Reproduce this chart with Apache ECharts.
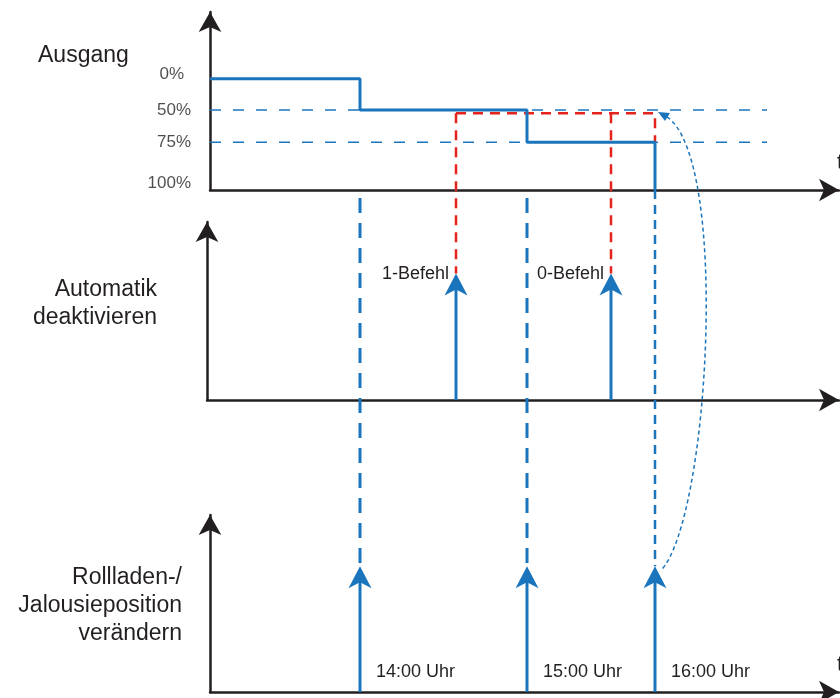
<!DOCTYPE html>
<html>
<head>
<meta charset="utf-8">
<title>Automatik deaktivieren</title>
<script src="https://cdn.jsdelivr.net/npm/echarts@6/dist/echarts.min.js"></script>
<style>
  html, body { margin: 0; padding: 0; background: #fff; }
  #chart { width: 840px; height: 698px; }
</style>
</head>
<body>
<div id="chart"></div>
<script>
// shared time axis (schematic units, 0 = origin of the panels)
const tEnd = 629
const guideEnd = 557

// Ausgang: position steps
const levelLabels = ['0%', '50%', '75%', '100%']
const levelPos = [0, 28, 57, 100] // where each level sits on the Ausgang axis
const stepTimes = [0, 150, 317, 445]
const stepLevels = ['0%', '50%', '75%', '100%']
const guideLevels = ['50%', '75%']
const redLevel = 31 // red target line, drawn just under 50%

// Automatik deaktivieren: commands
const commandTimes = [246, 401]
const commandLabels = ['1-Befehl', '0-Befehl']

// Rollladen-/Jalousieposition: hourly moves
const hourTimes = [150, 317, 445]
const hourLabels = ['14:00 Uhr', '15:00 Uhr', '16:00 Uhr']

const pulseHeight = 0.71

const BLUE = '#1b75bc'
const RED = '#e3231c'
const INK = '#231f20'
const FONT = '"Liberation Sans", Arial, sans-serif'

const posOf = label => levelPos[levelLabels.indexOf(label)]

const chart = echarts.init(document.getElementById('chart'))

const axisLine = {
  onZero: false,
  symbol: ['none', 'arrow'],
  symbolSize: [17, 20],
  lineStyle: { color: INK, width: 2.5 }
}

const timeAxis = (gridIndex, min, name) => ({
  type: 'value',
  gridIndex,
  min,
  max: tEnd,
  name,
  nameLocation: 'end',
  nameGap: -2,
  nameTextStyle: {
    fontSize: 22,
    fontFamily: FONT,
    color: INK,
    align: 'left',
    verticalAlign: 'bottom',
    padding: [0, 0, 16, 0]
  },
  axisLine,
  axisTick: { show: false },
  axisLabel: { show: false },
  splitLine: { show: false }
})

const valueAxis = (gridIndex, extra) => Object.assign({
  type: 'value',
  gridIndex,
  axisLine,
  axisTick: { show: false },
  axisLabel: { show: false },
  splitLine: { show: false }
}, extra)

// vertical arrow with a label, drawn through the grid's scales
const arrowRender = (labels, kind) => (params, api) => {
  const base = api.coord([api.value(0), 0])
  const tip = api.coord([api.value(0), api.value(1)])
  const x = tip[0]
  const y = tip[1]
  const text = labels[params.dataIndex]
  const label = kind === 'command'
    ? { x: x - 7, y: y, align: 'right' }
    : { x: x + 16, y: base[1] - 20, align: 'left' }
  return {
    type: 'group',
    children: [
      {
        type: 'line',
        shape: { x1: base[0], y1: base[1], x2: x, y2: y + 12 },
        style: { stroke: BLUE, lineWidth: 3 }
      },
      {
        type: 'polygon',
        shape: { points: [[x, y], [x + 11.5, y + 22], [x, y + 16], [x - 11.5, y + 22]] },
        style: { fill: BLUE }
      },
      {
        type: 'text',
        x: label.x,
        y: label.y,
        style: {
          text,
          fontSize: 18,
          fontFamily: FONT,
          fill: INK,
          align: label.align,
          verticalAlign: 'middle'
        }
      }
    ]
  }
}

const option = {
  animation: false,
  backgroundColor: '#fff',
  textStyle: { fontFamily: FONT },
  grid: [
    { left: 210, right: 1, top: 12, height: 178, outerBoundsMode: 'none' },
    { left: 207, right: 1, top: 222, height: 178, outerBoundsMode: 'none' },
    { left: 210, right: 1, top: 515, height: 177, outerBoundsMode: 'none' }
  ],
  xAxis: [
    timeAxis(0, 0, 't'),
    timeAxis(1, -3, ''),
    timeAxis(2, 0, 't')
  ],
  yAxis: [
    valueAxis(0, { min: -60, max: 100, inverse: true }),
    valueAxis(1, { min: 0, max: 1 }),
    valueAxis(2, { min: 0, max: 1 })
  ],
  series: [
    ...guideLevels.map(l => ({
      type: 'line',
      xAxisIndex: 0,
      yAxisIndex: 0,
      symbol: 'none',
      silent: true,
      z: 1,
      data: [[0, posOf(l)], [guideEnd, posOf(l)]],
      lineStyle: { color: BLUE, width: 1.5, type: [11, 12] }
    })),
    {
      type: 'line',
      xAxisIndex: 0,
      yAxisIndex: 0,
      symbol: 'none',
      silent: true,
      z: 2,
      data: [[commandTimes[0], redLevel], [hourTimes[2], redLevel], [hourTimes[2], posOf('75%')]],
      lineStyle: { color: RED, width: 2.5, type: [10, 7] }
    },
    {
      type: 'line',
      xAxisIndex: 0,
      yAxisIndex: 0,
      step: 'end',
      symbol: 'none',
      silent: true,
      z: 3,
      data: stepTimes.map((t, i) => [t, posOf(stepLevels[i])]),
      lineStyle: { color: BLUE, width: 3 }
    },
    {
      type: 'scatter',
      xAxisIndex: 0,
      yAxisIndex: 0,
      symbolSize: 0,
      silent: true,
      data: levelLabels.map((l, i) => ({
        value: [0, levelPos[i]],
        label: { offset: i === 0 ? [-7, -4] : i === levelLabels.length - 1 ? [0, -7] : [0, 0] }
      })),
      label: {
        show: true,
        position: 'left',
        distance: 19,
        formatter: p => levelLabels[p.dataIndex],
        fontSize: 17,
        fontFamily: FONT,
        color: INK
      }
    },
    {
      type: 'custom',
      xAxisIndex: 1,
      yAxisIndex: 1,
      silent: true,
      data: commandTimes.map(t => [t, pulseHeight]),
      renderItem: arrowRender(commandLabels, 'command')
    },
    {
      type: 'custom',
      xAxisIndex: 2,
      yAxisIndex: 2,
      silent: true,
      data: hourTimes.map(t => [t, pulseHeight]),
      renderItem: arrowRender(hourLabels, 'hour')
    }
  ]
}

chart.setOption(option)

// lines that run across the panels
const px = (gridIndex, t, v) => chart.convertToPixel({ gridIndex }, [t, v])
const graphics = []

commandTimes.forEach(t => {
  const a = px(0, t, redLevel)
  const b = px(1, t, pulseHeight)
  graphics.push({
    type: 'line',
    z: 5,
    shape: { x1: a[0], y1: a[1], x2: b[0], y2: b[1] },
    style: { stroke: RED, lineWidth: 2.5, lineDash: [10, 7] }
  })
})

hourTimes.forEach((t, i) => {
  const a = px(0, t, 100)
  const b = px(2, t, pulseHeight)
  const last = i === hourTimes.length - 1
  graphics.push({
    type: 'line',
    z: 5,
    shape: { x1: a[0], y1: a[1], x2: b[0], y2: b[1] },
    style: last
      ? { stroke: BLUE, lineWidth: 2.5, lineDash: [9, 6] }
      : { stroke: BLUE, lineWidth: 3, lineDash: [15, 10], lineDashOffset: 17 }
  })
})

// dotted return path from the 16:00 move back to 50 %
const retTop = px(0, hourTimes[2], posOf('50%'))
const retBottom = px(2, hourTimes[2], pulseHeight)
const p0 = [retTop[0] + 3, retTop[1] + 2]
const p3 = [retBottom[0] + 6, retBottom[1] + 4]
graphics.push({
  type: 'bezierCurve',
  z: 5,
  shape: {
    x1: p0[0] + 9, y1: p0[1] + 5,
    cpx1: p0[0] + 72, cpy1: p0[1] + 48,
    cpx2: p3[0] + 48, cpy2: p3[1] - 50,
    x2: p3[0], y2: p3[1]
  },
  style: { stroke: BLUE, lineWidth: 1.5, lineDash: [4, 3], fill: null }
})
graphics.push({
  type: 'polygon',
  z: 6,
  shape: { points: [p0, [p0[0] + 12, p0[1] + 1], [p0[0] + 7, p0[1] + 9]] },
  style: { fill: BLUE }
})

// panel titles
const title = (text, x, y, align) => ({
  type: 'text',
  x,
  y,
  z: 6,
  style: {
    text,
    fontSize: 23,
    lineHeight: 28,
    fontFamily: FONT,
    fill: INK,
    align,
    verticalAlign: 'middle'
  }
})
graphics.push(title('Ausgang', 38, 56, 'left'))
graphics.push(title('Automatik\ndeaktivieren', 157, 304, 'right'))
graphics.push(title('Rollladen-/\nJalousieposition\nverändern', 182, 606, 'right'))

chart.setOption({ graphic: graphics })
</script>
</body>
</html>
